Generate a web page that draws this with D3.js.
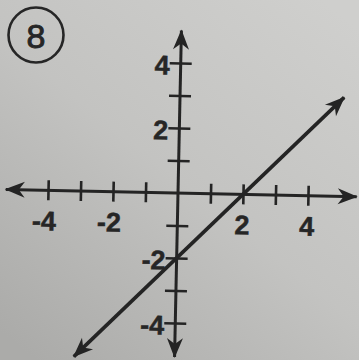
<!DOCTYPE html>
<html lang="en">
<head>
<meta charset="utf-8">
<title>Graph 8: y = x - 2</title>
<script src="https://cdn.jsdelivr.net/npm/d3@7"></script>
<style>
  html, body { margin: 0; padding: 0; }
  svg { display: block; }
  .lbl { font-family: "Liberation Sans", Arial, sans-serif; font-weight: bold; font-size: 27px; fill: #262626; stroke: #262626; stroke-width: 0.5px; }
</style>
</head>
<body>
<script>
// data
var tickVals = [-4, -3, -2, -1, 1, 2, 3, 4];
var labelVals = [-4, -2, 2, 4];
var xExtent = [-5.3, 5.5];     // x axis arrow tips
var yExtent = [-5.05, 5.0];    // y axis arrow tips
var linePts = [[-3.1, -5.1], [5.05, 3.05]];  // y = x - 2
var problemNo = "8";

var w = 359, h = 360;
var ox = 178, oy = 193, unit = 32.5;

var x = d3.scaleLinear().domain([-5.5, 5.5]).range([ox - 5.5 * unit, ox + 5.5 * unit]);
var y = d3.scaleLinear().domain([-5.5, 5.5]).range([oy + 5.5 * unit, oy - 5.5 * unit]);

var svg = d3.select("body").append("svg").attr("width", w).attr("height", h);

// paper background
var defs = svg.append("defs");
var grad = defs.append("linearGradient").attr("id", "paper")
  .attr("x1", "0.9").attr("y1", "0").attr("x2", "0.1").attr("y2", "1");
grad.append("stop").attr("offset", "0").attr("stop-color", "#cfcfcd");
grad.append("stop").attr("offset", "0.5").attr("stop-color", "#c3c3c1");
grad.append("stop").attr("offset", "1").attr("stop-color", "#ababa9");
svg.append("rect").attr("width", w).attr("height", h).attr("fill", "url(#paper)");

defs.append("marker").attr("id", "arr")
  .attr("viewBox", "-20 -9 22 18").attr("refX", 0).attr("refY", 0)
  .attr("markerUnits", "userSpaceOnUse")
  .attr("markerWidth", 22).attr("markerHeight", 18)
  .attr("orient", "auto-start-reverse")
  .append("path").attr("d", "M1,0 L-19,-8 L-13,0 L-19,8 Z").attr("fill", "#242424");

// problem number
svg.append("circle").attr("cx", 36).attr("cy", 35).attr("r", 27.5)
  .attr("fill", "none").attr("stroke", "#262626").attr("stroke-width", 2.6);
svg.append("text").attr("x", 36).attr("y", 47.5).attr("text-anchor", "middle")
  .style("font-family", "Liberation Sans, Arial, sans-serif").style("font-size", "34px")
  .attr("fill", "#262626").attr("stroke", "#262626").attr("stroke-width", 0.9)
  .text(problemNo);

var g = svg.append("g").attr("transform", "rotate(1.2," + ox + "," + oy + ")");

// x axis
var xAxis = d3.axisBottom(x).tickValues(tickVals).tickSize(10)
  .tickFormat(function(d) { return labelVals.indexOf(d) >= 0 ? d : ""; });
var gx = g.append("g").attr("transform", "translate(0," + oy + ")").call(xAxis);
gx.select(".domain").remove();
gx.selectAll(".tick line").attr("y1", -10).attr("y2", 10)
  .attr("stroke", "#242424").attr("stroke-width", 2.6);
gx.selectAll(".tick text").attr("class", "lbl").attr("y", 40)
  .attr("font-family", null).attr("font-size", null).attr("fill", null)
  .attr("text-anchor", function(d) { return d < 0 ? "end" : "middle"; })
  .attr("dx", function(d) { return d < 0 ? 8 : -1; })
  .attr("dy", 0);

// y axis
var yAxis = d3.axisLeft(y).tickValues(tickVals).tickSize(11)
  .tickFormat(function(d) { return labelVals.indexOf(d) >= 0 ? d : ""; });
var gy = g.append("g").attr("transform", "translate(" + ox + ",0)").call(yAxis);
gy.select(".domain").remove();
gy.selectAll(".tick line").attr("x1", -11).attr("x2", 11)
  .attr("stroke", "#242424").attr("stroke-width", 2.6);
gy.selectAll(".tick text").attr("class", "lbl").attr("x", -11)
  .attr("font-family", null).attr("font-size", null).attr("fill", null)
  .attr("text-anchor", "end").attr("dy", "0.42em");

// axis lines with arrows
g.append("line")
  .attr("x1", x(xExtent[0])).attr("y1", y(0)).attr("x2", x(xExtent[1])).attr("y2", y(0))
  .attr("stroke", "#242424").attr("stroke-width", 3)
  .attr("marker-start", "url(#arr)").attr("marker-end", "url(#arr)");
g.append("line")
  .attr("x1", x(0)).attr("y1", y(yExtent[0])).attr("x2", x(0)).attr("y2", y(yExtent[1]))
  .attr("stroke", "#242424").attr("stroke-width", 3)
  .attr("marker-start", "url(#arr)").attr("marker-end", "url(#arr)");

// the graphed line
g.append("path")
  .attr("d", d3.line().x(function(d) { return x(d[0]); }).y(function(d) { return y(d[1]); })(linePts))
  .attr("fill", "none").attr("stroke", "#242424").attr("stroke-width", 3.6)
  .attr("marker-start", "url(#arr)").attr("marker-end", "url(#arr)");
</script>
</body>
</html>
